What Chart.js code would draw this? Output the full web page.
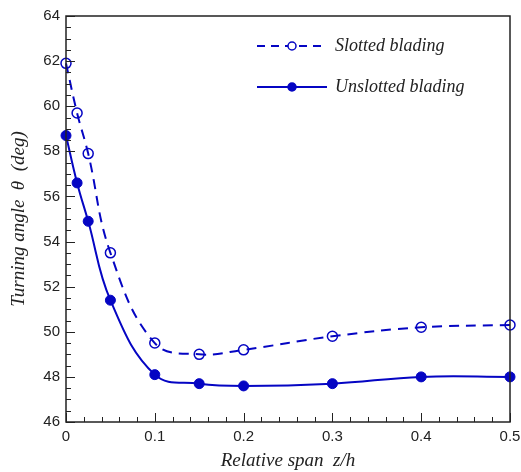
<!DOCTYPE html>
<html>
<head>
<meta charset="utf-8">
<script src="https://cdn.jsdelivr.net/npm/chart.js@4"></script>
<style>
  body { margin: 0; background: #fff; }
  #wrap { width: 521px; height: 472px; }
</style>
</head>
<body>
<div id="wrap"><canvas id="mycanvas" width="521" height="472"></canvas></div>
<script>
var span = [0, 0.0125, 0.025, 0.05, 0.1, 0.15, 0.2, 0.3, 0.4, 0.5];
var slotted = [61.9, 59.7, 57.9, 53.5, 49.5, 49.0, 49.2, 49.8, 50.2, 50.3];
var unslotted = [58.7, 56.6, 54.9, 51.4, 48.1, 47.7, 47.6, 47.7, 48.0, 48.0];
var seriesNames = ['Slotted blading', 'Unslotted blading'];
var xTicks = [0, 0.1, 0.2, 0.3, 0.4, 0.5];
var yTicks = [46, 48, 50, 52, 54, 56, 58, 60, 62, 64];

var blue = 'rgb(5,5,195)';

function pts(ys) {
	var out = [];
	for (var i in span) out.push({x: span[i], y: ys[i]});
	return out;
}

// frame, inward ticks and legend
var decor = {
	id: 'decor',
	afterDraw: function(chart) {
		var ctx = chart.ctx, a = chart.chartArea;
		var xs = chart.scales.x, ys = chart.scales.y;
		ctx.save();
		ctx.strokeStyle = '#222';
		ctx.lineWidth = 1.5;
		ctx.strokeRect(a.left, a.top, a.right - a.left, a.bottom - a.top);
		ctx.lineWidth = 1;
		ctx.beginPath();
		for (var v = 0; v <= 0.5001; v += 0.02) {
			var px = Math.round(xs.getPixelForValue(v)) + 0.5;
			var major = Math.abs(v * 10 - Math.round(v * 10)) < 1e-6;
			ctx.moveTo(px, a.bottom);
			ctx.lineTo(px, a.bottom - (major ? 9 : 5));
		}
		for (var w = 46; w <= 64.001; w += 0.5) {
			var py = Math.round(ys.getPixelForValue(w)) + 0.5;
			var maj = Math.abs(w / 2 - Math.round(w / 2)) < 1e-6;
			ctx.moveTo(a.left, py);
			ctx.lineTo(a.left + (maj ? 9 : 5), py);
		}
		ctx.stroke();

		// legend
		var rows = [
			{y: 46, dash: [8, 6], fill: '#fff'},
			{y: 87, dash: [], fill: blue}
		];
		ctx.font = 'italic 18px "Liberation Serif"';
		ctx.textBaseline = 'middle';
		for (var r = 0; r < rows.length; r++) {
			var row = rows[r];
			ctx.strokeStyle = blue;
			ctx.lineWidth = 2;
			ctx.setLineDash(row.dash);
			ctx.beginPath();
			ctx.moveTo(257, row.y);
			ctx.lineTo(327, row.y);
			ctx.stroke();
			ctx.setLineDash([]);
			ctx.beginPath();
			ctx.arc(292, row.y, 4, 0, Math.PI * 2);
			ctx.fillStyle = row.fill;
			ctx.fill();
			ctx.lineWidth = 1.5;
			ctx.stroke();
			ctx.fillStyle = '#222';
			ctx.fillText(seriesNames[r], 335, row.y);
		}
		ctx.restore();
	}
};

var ctx = document.getElementById('mycanvas');
var chart = new Chart(ctx, {
	type: 'line',
	data: {
		datasets: [
			{
				label: seriesNames[0],
				data: pts(slotted),
				borderColor: blue,
				backgroundColor: '#fff',
				borderWidth: 2,
				borderDash: [10, 7],
				pointRadius: 5,
				pointBorderWidth: 1.5,
				pointBorderColor: blue,
				pointBackgroundColor: 'rgba(255,255,255,0)',
				tension: 0.4,
				clip: false
			},
			{
				label: seriesNames[1],
				data: pts(unslotted),
				borderColor: blue,
				backgroundColor: blue,
				borderWidth: 2,
				pointRadius: 5,
				pointBorderWidth: 1,
				pointBorderColor: blue,
				pointBackgroundColor: blue,
				tension: 0.4,
				clip: false
			}
		]
	},
	options: {
		responsive: false,
		animation: false,
		events: [],
		layout: { padding: { top: 16, right: 11, left: 0, bottom: 0 } },
		plugins: { legend: { display: false }, tooltip: { enabled: false } },
		scales: {
			x: {
				type: 'linear',
				min: 0, max: 0.5,
				afterBuildTicks: function(s) { s.ticks = xTicks.map(function(v) { return {value: v}; }); },
				afterFit: function(s) { s.height = 50; s.paddingLeft = 0; s.paddingRight = 0; },
				grid: { display: false, drawTicks: false },
				border: { display: false },
				ticks: {
					color: '#222',
					padding: 6,
					font: { family: '"Liberation Sans"', size: 15 },
					maxRotation: 0,
					callback: function(v) { return String(v); }
				},
				title: {
					display: true,
					text: 'Relative span  z/h',
					color: '#222',
					padding: { top: 2, bottom: 0 },
					font: { family: '"Liberation Serif"', style: 'italic', size: 19 }
				}
			},
			y: {
				min: 46, max: 64,
				afterBuildTicks: function(s) { s.ticks = yTicks.map(function(v) { return {value: v}; }); },
				afterFit: function(s) { s.width = 66; s.paddingTop = 0; s.paddingBottom = 0; },
				grid: { display: false, drawTicks: false },
				border: { display: false },
				ticks: {
					color: '#222',
					padding: 6,
					font: { family: '"Liberation Sans"', size: 15 }
				},
				title: {
					display: true,
					text: 'Turning angle  \u03b8  (deg)',
					color: '#222',
					padding: { top: 8, bottom: 2 },
					font: { family: '"Liberation Serif"', style: 'italic', size: 19 }
				}
			}
		}
	},
	plugins: [decor]
});
</script>
</body>
</html>
